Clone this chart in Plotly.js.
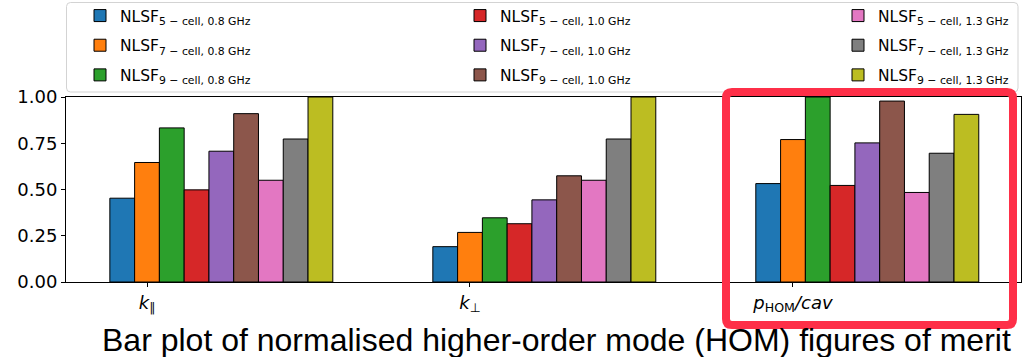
<!DOCTYPE html>
<html>
<head>
<meta charset="utf-8">
<script src="https://cdn.plot.ly/plotly-3.0.1.min.js"></script>
<style>html,body{margin:0;padding:0;background:#fff;}#chart{width:1026px;height:357px;}</style>
</head>
<body>
<div id="chart"></div>
<script>
// ---- data ----
const categories = ["<i>k</i><sub>∥</sub>", "<i>k</i><sub>⊥</sub>", "<i>p</i><sub>HOM</sub><i>/cav</i>"];
const seriesNames = [
  "NLSF<sub>5 − cell, 0.8 GHz</sub>",
  "NLSF<sub>7 − cell, 0.8 GHz</sub>",
  "NLSF<sub>9 − cell, 0.8 GHz</sub>",
  "NLSF<sub>5 − cell, 1.0 GHz</sub>",
  "NLSF<sub>7 − cell, 1.0 GHz</sub>",
  "NLSF<sub>9 − cell, 1.0 GHz</sub>",
  "NLSF<sub>5 − cell, 1.3 GHz</sub>",
  "NLSF<sub>7 − cell, 1.3 GHz</sub>",
  "NLSF<sub>9 − cell, 1.3 GHz</sub>"
];
const nlsf5_08 = [0.453, 0.191, 0.532];
const nlsf7_08 = [0.646, 0.268, 0.770];
const nlsf9_08 = [0.833, 0.347, 1.000];
const nlsf5_10 = [0.498, 0.315, 0.522];
const nlsf7_10 = [0.707, 0.444, 0.752];
const nlsf9_10 = [0.910, 0.574, 0.978];
const nlsf5_13 = [0.550, 0.550, 0.484];
const nlsf7_13 = [0.773, 0.773, 0.696];
const nlsf9_13 = [1.000, 1.000, 0.906];
const seriesValues = [nlsf5_08, nlsf7_08, nlsf9_08, nlsf5_10, nlsf7_10, nlsf9_10, nlsf5_13, nlsf7_13, nlsf9_13];
const yTickValues = [0, 0.25, 0.5, 0.75, 1.0];
const title = "Bar plot of normalised higher-order mode (HOM) figures of merit";

// ---- styles ----
const colors = ["#1f77b4","#ff7f0e","#2ca02c","#d62728","#9467bd","#8c564b","#e377c2","#7f7f7f","#bcbd22"];
const barWidth = 0.0767;
const legendIds = ["legend","legend2","legend3"];
const positions = categories.map((c, i) => i);

const traces = seriesValues.map((vals, i) => ({
  type: "bar",
  name: seriesNames[i],
  x: positions,
  y: vals,
  width: barWidth,
  offset: (i - 1.5) * barWidth,
  marker: {color: colors[i], line: {color: "#000", width: 1}},
  legend: legendIds[Math.floor(i / 3)],
  legendgroup: "g" + i,
  hoverinfo: "skip"
}));

const W = 1026, H = 357;
const L = 66, R = 5, T = 97, B = 75;
const pw = W - L - R, ph = H - T - B;
const px = v => (v - L) / pw;            // pixel x -> paper
const py = v => (H - B - v) / ph;        // pixel y -> paper

const legendFont = {family: "DejaVu Sans", size: 15.5, color: "#000"};
function mkLegend(xpix) {
  return {
    x: px(xpix), xanchor: "left", y: py(-1), yanchor: "top",
    bgcolor: "rgba(0,0,0,0)", borderwidth: 0, font: legendFont,
    traceorder: "grouped", tracegroupgap: 6.5, itemclick: false, itemdoubleclick: false
  };
}

function roundRect(x0, y0, x1, y1, r) {
  const X = px, Y = py;
  const rx = r / pw, ry = r / ph;
  const a = X(x0), b = X(x1), c = Y(y0), d = Y(y1);
  return `M ${a + rx},${c} L ${b - rx},${c} Q ${b},${c} ${b},${c - ry} L ${b},${d + ry} Q ${b},${d} ${b - rx},${d} L ${a + rx},${d} Q ${a},${d} ${a},${d + ry} L ${a},${c - ry} Q ${a},${c} ${a + rx},${c} Z`;
}

const layout = {
  width: W, height: H,
  margin: {l: L, r: R, t: T, b: B, pad: 0, autoexpand: false},
  paper_bgcolor: "#fff", plot_bgcolor: "#fff",
  barmode: "overlay",
  showlegend: true,
  legend: mkLegend(80),
  legend2: mkLegend(460),
  legend3: mkLegend(838),
  xaxis: {
    range: [-0.2508, 2.706], tickmode: "array", tickvals: positions, ticktext: categories,
    showline: true, mirror: true, linecolor: "#000", linewidth: 1,
    ticks: "outside", ticklen: 4, tickcolor: "#000", showgrid: false, zeroline: false,
    tickfont: {family: "DejaVu Sans", size: 18, color: "#000"}, fixedrange: true, automargin: false
  },
  yaxis: {
    range: [0, 1], tickmode: "array", tickvals: yTickValues, tickformat: ".2f",
    showline: true, mirror: true, linecolor: "#000", linewidth: 1,
    ticks: "outside", ticklen: 4, tickcolor: "#000", showgrid: false, zeroline: false,
    tickfont: {family: "DejaVu Sans", size: 18, color: "#000"}, fixedrange: true, automargin: false
  },
  shapes: [
    {type: "path", xref: "paper", yref: "paper", path: roundRect(66.5, 2.5, 1018, 92, 4),
     line: {color: "#d3d3d3", width: 1}, fillcolor: "rgba(255,255,255,0.8)", layer: "below"},
    {type: "path", xref: "paper", yref: "paper", path: roundRect(726, 92, 1013, 325, 6),
     line: {color: "#fe2f48", width: 8}, fillcolor: "rgba(0,0,0,0)", layer: "above"}
  ],
  annotations: [
    {text: title, xref: "paper", yref: "paper", x: px(556), y: py(340), xanchor: "center", yanchor: "middle",
     showarrow: false, font: {family: "Liberation Sans", size: 32, color: "#000"}}
  ]
};

Plotly.newPlot("chart", traces, layout, {staticPlot: true, displayModeBar: false});
</script>
</body>
</html>
